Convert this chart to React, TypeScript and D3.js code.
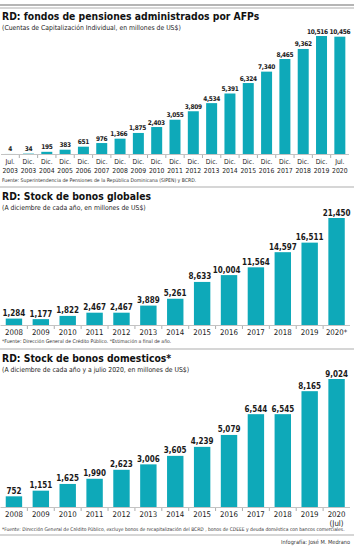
import { useEffect, useRef } from "react";
import * as d3 from "d3";

const pensionMonths = ["Jul.", "Dic.", "Dic.", "Dic.", "Dic.", "Dic.", "Dic.", "Dic.", "Dic.", "Dic.", "Dic.", "Dic.", "Dic.", "Dic.", "Dic.", "Dic.", "Dic.", "Dic.", "Jul."];
const pensionYears = ["2003", "2003", "2004", "2005", "2006", "2007", "2008", "2009", "2010", "2011", "2012", "2013", "2014", "2015", "2016", "2017", "2018", "2019", "2020"];
const pensionValues = [4, 34, 195, 383, 651, 976, 1366, 1875, 2403, 3055, 3809, 4534, 5391, 6324, 7340, 8465, 9362, 10516, 10456];

const globalYears = ["2008", "2009", "2010", "2011", "2012", "2013", "2014", "2015", "2016", "2017", "2018", "2019", "2020*"];
const globalValues = [1284, 1177, 1822, 2467, 2467, 3889, 5261, 8633, 10004, 11564, 14597, 16511, 21450];

const domesticYears = ["2008", "2009", "2010", "2011", "2012", "2013", "2014", "2015", "2016", "2017", "2018", "2019", "2020"];
const domesticValues = [752, 1151, 1625, 1990, 2623, 3006, 3605, 4239, 5079, 6544, 6545, 8165, 9024];

const W = 354;
const H = 552;
const TEAL = "#0ea9b9";
const FONT = "'Liberation Sans Narrow', 'DejaVu Sans Condensed', sans-serif";

interface Panel {
  labels: string[];
  sub?: string[];
  values: number[];
  base: number;
  top: number;
  range: [number, number];
  padding: number;
  labelSize: number;
  valueSize: number;
  valueSpacing: number;
}

export default function App() {
  const ref = useRef<SVGSVGElement | null>(null);

  useEffect(() => {
    if (!ref.current) return;
    const svg = d3.select(ref.current);
    svg.selectAll("*").remove();

    svg.append("rect").attr("width", W).attr("height", H).attr("fill", "white");

    // top double rule
    svg.append("line").attr("x1", 0).attr("x2", W).attr("y1", 5).attr("y2", 5)
      .attr("stroke", "#6d6d6d").attr("stroke-width", 1.2);
    svg.append("line").attr("x1", 0).attr("x2", W).attr("y1", 8).attr("y2", 8)
      .attr("stroke", "#9a9a9a").attr("stroke-width", 0.8);

    const title = (y: number, t: string) =>
      svg.append("text").attr("x", 2).attr("y", y).attr("font-family", FONT)
        .attr("font-weight", "bold").attr("font-size", 10.3).attr("fill", "#111").text(t);
    const subtitle = (y: number, t: string) =>
      svg.append("text").attr("x", 2).attr("y", y).attr("font-family", FONT)
        .attr("font-size", 6.8).attr("fill", "#222").text(t);
    const note = (y: number, t: string, x = 2, anchor = "start", size = 5.1) =>
      svg.append("text").attr("x", x).attr("y", y).attr("font-family", FONT)
        .attr("font-size", size).attr("fill", "#333").attr("text-anchor", anchor).text(t);
    const rule = (y: number) =>
      svg.append("line").attr("x1", 0).attr("x2", W).attr("y1", y).attr("y2", y)
        .attr("stroke", "#c8c8c8").attr("stroke-width", 1.5);

    const drawPanel = (p: Panel) => {
      const x = d3.scaleBand<number>()
        .domain(d3.range(p.values.length))
        .range(p.range)
        .paddingInner(p.padding)
        .paddingOuter(p.padding / 2);
      const maxV = d3.max(p.values) ?? 1;
      const y = d3.scaleLinear().domain([0, maxV]).range([p.base, p.top]);
      const g = svg.append("g");

      g.selectAll("rect.bar")
        .data(p.values)
        .enter()
        .append("rect")
        .attr("class", "bar")
        .attr("x", (_, i) => x(i)!)
        .attr("y", d => y(d))
        .attr("width", x.bandwidth())
        .attr("height", d => p.base - y(d))
        .attr("fill", TEAL);

      const vals = g.selectAll("text.val")
        .data(p.values)
        .enter()
        .append("text")
        .attr("class", "val")
        .attr("x", (_, i) => x(i)! + x.bandwidth() / 2)
        .attr("y", d => y(d) - 2.5)
        .attr("text-anchor", "middle")
        .attr("font-family", FONT)
        .attr("font-weight", "bold")
        .attr("font-size", p.valueSize)
        .attr("letter-spacing", p.valueSpacing)
        .attr("fill", "#1a1a1a")
        .text(d => d3.format(",")(d));

      // nudge a label left when it would collide with the next one (right to left)
      const nodes = vals.nodes() as SVGTextElement[];
      for (let i = nodes.length - 2; i >= 0; i--) {
        const a = nodes[i].getBBox();
        const b = nodes[i + 1].getBBox();
        const vertical = a.y < b.y + b.height && b.y < a.y + a.height;
        const gap = b.x - (a.x + a.width);
        if (vertical && gap < 1.5) {
          const cur = +nodes[i].getAttribute("x")!;
          nodes[i].setAttribute("x", String(cur - (1.5 - gap)));
        }
      }

      // baseline
      g.append("line")
        .attr("x1", p.range[0]).attr("x2", p.range[1])
        .attr("y1", p.base + 0.5).attr("y2", p.base + 0.5)
        .attr("stroke", "#9a9a9a").attr("stroke-width", 0.6);

      // separators between categories
      const step = x.step();
      g.selectAll("line.sep")
        .data(d3.range(1, p.values.length))
        .enter()
        .append("line")
        .attr("x1", i => x(i)! - (step - x.bandwidth()) / 2)
        .attr("x2", i => x(i)! - (step - x.bandwidth()) / 2)
        .attr("y1", p.base + 1)
        .attr("y2", p.base + 4)
        .attr("stroke", "#777")
        .attr("stroke-width", 0.6);

      g.selectAll("text.lab")
        .data(p.labels)
        .enter()
        .append("text")
        .attr("x", (_, i) => x(i)! + x.bandwidth() / 2)
        .attr("y", p.base + 9.5)
        .attr("text-anchor", "middle")
        .attr("font-family", FONT)
        .attr("font-size", p.labelSize)
        .attr("fill", "#222")
        .text(d => d);

      if (p.sub) {
        g.selectAll("text.sub")
          .data(p.sub)
          .enter()
          .append("text")
          .attr("x", (_, i) => x(i)! + x.bandwidth() / 2)
          .attr("y", p.base + 18.5)
          .attr("text-anchor", "middle")
          .attr("font-family", FONT)
          .attr("font-size", p.labelSize)
          .attr("fill", "#222")
          .text(d => d);
      }
    };

    // Panel 1
    title(20, "RD: fondos de pensiones administrados por AFPs");
    subtitle(30, "(Cuentas de Capitalización Individual, en millones de US$)");
    drawPanel({
      labels: pensionMonths,
      sub: pensionYears,
      values: pensionValues,
      base: 154,
      top: 36,
      range: [1, 349],
      padding: 0.4,
      labelSize: 6.8,
      valueSize: 6.5,
      valueSpacing: -0.3
    });
    note(182, "Fuente: Superintendencia de Pensiones de la República Dominicana (SIPEN) y BCRD.");
    rule(187);

    // Panel 2
    title(200, "RD: Stock de bonos globales");
    subtitle(210, "(A diciembre de cada año, en millones de US$)");
    drawPanel({
      labels: globalYears,
      values: globalValues,
      base: 325,
      top: 218,
      range: [0.5, 350],
      padding: 0.39,
      labelSize: 7.8,
      valueSize: 8,
      valueSpacing: 0
    });
    note(343, "*Fuente: Dirección General de Crédito Público. *Estimación a final de año.");
    rule(349);

    // Panel 3
    title(362, "RD: Stock de bonos domesticos*");
    subtitle(372, "(A diciembre de cada año y a julio 2020, en millones de US$)");
    const p3Sub = domesticYears.map((_, i) => (i === domesticYears.length - 1 ? "(Jul)" : ""));
    drawPanel({
      labels: domesticYears,
      sub: p3Sub,
      values: domesticValues,
      base: 507,
      top: 379,
      range: [0.5, 350],
      padding: 0.39,
      labelSize: 7.8,
      valueSize: 8,
      valueSpacing: 0
    });
    note(531, "*Fuente: Dirección General de Crédito Público, excluye bonos de recapitalización del BCRD , bonos de CDEEE y deuda  doméstica con bancos comerciales.", 2, "start", 4.95);
    rule(535);
    note(544, "Infografía: José M. Medrano", 350, "end", 5.6);
  }, []);

  return (
    <svg ref={ref} width={W} height={H} style={{ position: "absolute", left: 0, top: 0 }} />
  );
}
